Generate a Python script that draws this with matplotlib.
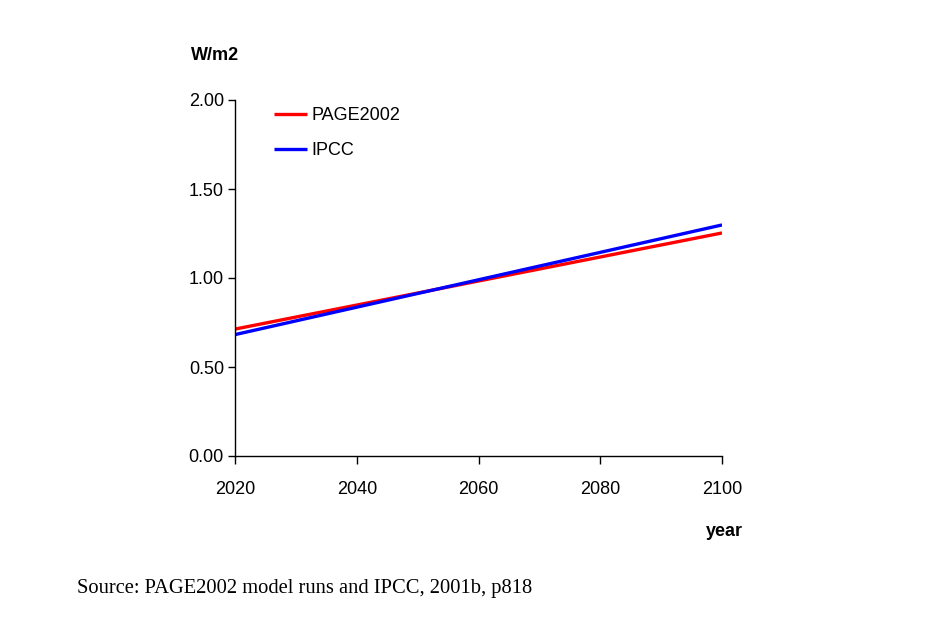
import matplotlib
matplotlib.use("Agg")
import matplotlib.pyplot as plt

years = [2020, 2100]
page2002 = [0.713, 1.253]
ipcc = [0.682, 1.298]
xticks = [2020, 2040, 2060, 2080, 2100]
yticks = [0.0, 0.5, 1.0, 1.5, 2.0]

plt.rcParams['font.family'] = ['Liberation Sans', 'DejaVu Sans']

fig = plt.figure(figsize=(9.41, 6.22), dpi=100)
ax = fig.add_axes([235/941, 1-456/622, (722-235)/941, (456-100)/622])

ax.plot(years, page2002, color='#ff0000', lw=2.4, label='PAGE2002', solid_capstyle='butt')
ax.plot(years, ipcc, color='#0000ff', lw=2.4, label='IPCC', solid_capstyle='butt')

ax.set_xlim(2020, 2100)
ax.set_ylim(0, 2.0)
ax.set_xticks(xticks)
ax.set_xticklabels([str(x) for x in xticks])
ax.set_yticks(yticks)
ax.set_yticklabels([f"{y:.2f}" for y in yticks])
for s in ['top', 'right']:
    ax.spines[s].set_visible(False)
for s in ['left', 'bottom']:
    ax.spines[s].set_linewidth(1.0)
ax.tick_params(axis='y', direction='out', length=5, width=1.0, labelsize=13, pad=3)
ax.tick_params(axis='x', direction='out', length=6, width=1.0, labelsize=13, pad=12)

leg = ax.legend(loc='upper left', bbox_to_anchor=(0.046, 1.025), frameon=False,
                fontsize=13, handlelength=1.85, handletextpad=0.25, labelspacing=1.0)

fig.text(191/941, 1-55/622, 'W/m2', fontsize=13, fontweight='bold', va='center', ha='left')
fig.text(743/941, 1-532/622, 'year', fontsize=13, fontweight='bold', va='center', ha='right')
fig.text(77/941, 1-588/622, 'Source: PAGE2002 model runs and IPCC, 2001b, p818',
         fontsize=14.8, family=['Liberation Serif', 'DejaVu Serif'], va='center', ha='left')

fig.savefig('out.png', dpi=100)
